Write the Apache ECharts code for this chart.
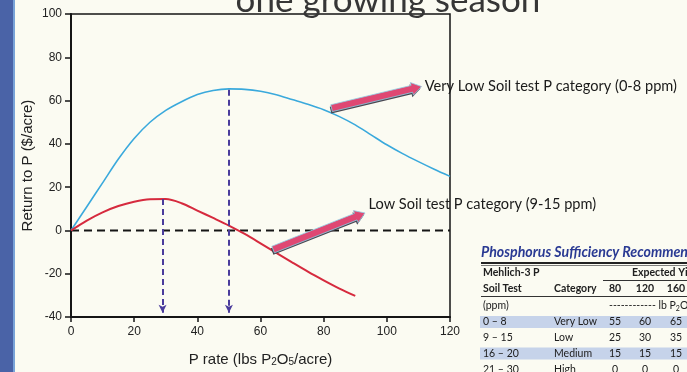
<!DOCTYPE html>
<html>
<head>
<meta charset="utf-8">
<script src="https://cdn.jsdelivr.net/npm/echarts@6/dist/echarts.min.js"></script>
<style>
  html, body { margin: 0; padding: 0; background: #fbfbf2; }
  #chart { width: 687px; height: 372px; }
</style>
</head>
<body>
<div id="chart"></div>
<script>
// P rate (lbs P2O5/acre) and return to P ($/acre), very low soil test P (0-8 ppm)
const pRateVeryLow = [0, 5, 10, 15, 20, 25, 30, 35, 40, 45, 50, 55, 60, 65, 70, 75, 80, 85, 90, 95, 100, 105, 110, 115, 120];
const returnVeryLow = [0, 11, 22, 33, 42.5, 50, 55.5, 59.5, 62.8, 64.7, 65.4, 65.2, 64.3, 62.7, 60.5, 58.3, 55.8, 52.6, 48.8, 44.2, 39.6, 35.5, 31.8, 28.3, 25];

// Low soil test P (9-15 ppm)
const pRateLow = [0, 5, 10, 15, 20, 25, 30, 35, 40, 45, 50, 55, 60, 65, 70, 75, 80, 85, 90];
const returnLow = [0, 4.6, 8.4, 11.3, 13.3, 14.4, 14.5, 12.6, 9.2, 5.8, 2.3, -1.6, -5.9, -10.3, -14.7, -19, -23, -26.8, -30.2];

// Most profitable P rate for each category (arrows dropped to the x axis)
const optimumRates = [29, 50];
const optimumReturns = [14.5, 65];
const arrowFloor = -38;

// Axis ticks
const xTicks = { min: 0, max: 120, interval: 20 };
const yTicks = { min: -40, max: 100, interval: 20 };

// Phosphorus sufficiency recommendation table
const tableRanges = ['0 – 8', '9 – 15', '16 – 20', '21 – 30'];
const tableCategories = ['Very Low', 'Low', 'Medium', 'High'];
const tableYieldGoals = [80, 120, 160];
const tableRates = [
  [55, 60, 65],
  [25, 30, 35],
  [15, 15, 15],
  [0, 0, 0]
];

const axisFont = 'Liberation Sans, Arial, sans-serif';
const slideFont = 'Lato, Open Sans, sans-serif';

const chart = echarts.init(document.getElementById('chart'), null, { renderer: 'canvas' });

function pairs(xs, ys) { return xs.map((x, i) => [x, ys[i]]); }

function dropArrow(i) {
  return {
    silent: true,
    symbol: ['none', 'arrow'],
    symbolSize: [6, 8],
    label: { show: false },
    lineStyle: { color: '#4a3c9c', width: 2, type: [6, 4] },
    data: [[{ coord: [optimumRates[i], optimumReturns[i]] }, { coord: [optimumRates[i], arrowFloor] }]],
    animation: false
  };
}

chart.setOption({
  backgroundColor: '#fbfbf2',
  animation: false,
  grid: { left: 71, right: 237, top: 14, bottom: 54, show: true, borderColor: '#151515', borderWidth: 1.5, backgroundColor: 'transparent' },
  xAxis: {
    type: 'value', min: xTicks.min, max: xTicks.max, interval: xTicks.interval,
    axisLine: { onZero: false, lineStyle: { color: '#151515', width: 2 } },
    axisTick: { length: 5, lineStyle: { color: '#151515', width: 1.5 } },
    axisLabel: { color: '#222', fontSize: 12, fontFamily: axisFont, margin: 9 },
    splitLine: { show: false },
    name: 'P rate (lbs P{s|2}O{s|5}/acre)',
    nameLocation: 'middle', nameGap: 34,
    nameTextStyle: {
      color: '#222', fontSize: 15, fontFamily: axisFont,
      rich: { s: { fontSize: 10, fontFamily: axisFont, color: '#222', verticalAlign: 'bottom', lineHeight: 10, padding: [14, 0, 0, 0] } }
    }
  },
  yAxis: {
    type: 'value', min: yTicks.min, max: yTicks.max, interval: yTicks.interval,
    axisLine: { show: true, lineStyle: { color: '#151515', width: 2 } },
    axisTick: { show: true, length: 6, lineStyle: { color: '#151515', width: 1.5 } },
    axisLabel: { color: '#222', fontSize: 12, fontFamily: axisFont, margin: 9 },
    splitLine: { show: false },
    name: 'Return to P ($/acre)',
    nameLocation: 'middle', nameGap: 36, nameMoveOverlap: false,
    nameTextStyle: { color: '#222', fontSize: 15, fontFamily: axisFont }
  },
  series: [
    {
      name: 'Very Low', type: 'line', data: pairs(pRateVeryLow, returnVeryLow),
      smooth: 0.3, showSymbol: false, silent: true,
      lineStyle: { color: '#3aa9dc', width: 1.6 },
      markLine: dropArrow(1), z: 3
    },
    {
      name: 'Low', type: 'line', data: pairs(pRateLow, returnLow),
      smooth: 0.3, showSymbol: false, silent: true,
      lineStyle: { color: '#d62a3e', width: 2 },
      markLine: dropArrow(0), z: 3
    },
    {
      name: 'Break-even', type: 'line', data: [[xTicks.min, 0], [xTicks.max, 0]],
      showSymbol: false, silent: true,
      lineStyle: { color: '#151515', width: 1.8, type: [8, 5] }, z: 2
    }
  ]
});

// Block arrow pointing from a curve to its label
function arrowPoints(p0, p1, shaft, headW, headL) {
  const dx = p1[0] - p0[0], dy = p1[1] - p0[1];
  const len = Math.hypot(dx, dy);
  const ux = dx / len, uy = dy / len, nx = -uy, ny = ux;
  const bx = p1[0] - ux * headL, by = p1[1] - uy * headL;
  const s = shaft / 2, h = headW / 2;
  return [
    [p0[0] + nx * s, p0[1] + ny * s],
    [bx + nx * s, by + ny * s],
    [bx + nx * h, by + ny * h],
    [p1[0], p1[1]],
    [bx - nx * h, by - ny * h],
    [bx - nx * s, by - ny * s],
    [p0[0] - nx * s, p0[1] - ny * s]
  ];
}

function blockArrow(fromData, toData) {
  const a = chart.convertToPixel({ gridIndex: 0 }, fromData);
  const b = chart.convertToPixel({ gridIndex: 0 }, toData);
  const pts = arrowPoints(a, b, 7, 13, 10);
  return [
    { type: 'polygon', shape: { points: pts.map(p => [p[0] - 1, p[1] + 2]) }, style: { fill: '#4a4650' }, silent: true, z: 20 },
    { type: 'polygon', shape: { points: pts }, style: { fill: '#df4873', stroke: '#8fd0e6', lineWidth: 0.8 }, silent: true, z: 21 }
  ];
}

const labelVeryLow = chart.convertToPixel({ gridIndex: 0 }, [112, 66.5]);
const labelLow = chart.convertToPixel({ gridIndex: 0 }, [94.2, 12]);

const graphics = [
  // blue edge of the slide
  { type: 'rect', shape: { x: 0, y: 0, width: 13, height: 372 }, style: { fill: '#4a63a7' }, silent: true, z: 30 },
  { type: 'rect', shape: { x: 13, y: 0, width: 2, height: 372 }, style: { fill: '#79a3d8' }, silent: true, z: 30 },
  // slide heading
  { type: 'text', x: 388, y: 1, style: { text: 'one growing season', fill: '#363636', font: '35px ' + slideFont, align: 'center', verticalAlign: 'middle' }, silent: true, z: 30 },
  ...blockArrow([82.5, 56.5], [111, 66.5]),
  ...blockArrow([64, -8.8], [93.1, 8.1]),
  { type: 'text', x: labelVeryLow[0], y: labelVeryLow[1], style: { text: 'Very Low Soil test P category (0-8 ppm)', fill: '#1a1a1a', font: '14.6px ' + slideFont, verticalAlign: 'middle' }, silent: true, z: 22 },
  { type: 'text', x: labelLow[0], y: labelLow[1], style: { text: 'Low Soil test P category (9-15 ppm)', fill: '#1a1a1a', font: '14.6px ' + slideFont, verticalAlign: 'middle' }, silent: true, z: 22 }
];

// Recommendation table
const tX = 481, colCat = 554, colYield = [615, 645, 676];
const rowY = [322, 338, 353.5, 369.5];
const hdr = 'bold 10.5px ' + slideFont, body = '10.5px ' + slideFont;
function tText(x, y, text, font, align, fill) {
  return { type: 'text', x, y, style: { text, font, fill: fill || '#202020', align: align || 'left', verticalAlign: 'middle' }, silent: true, z: 26 };
}
graphics.push(tText(tX, 252, 'Phosphorus Sufficiency Recommendations', 'italic bold 14.2px ' + slideFont, 'left', '#2a3a93'));
graphics.push({ type: 'rect', shape: { x: tX, y: 262, width: 220, height: 2 }, style: { fill: '#222' }, silent: true, z: 25 });
graphics.push({ type: 'rect', shape: { x: tX, y: 265, width: 220, height: 0.8 }, style: { fill: '#555' }, silent: true, z: 25 });
graphics.push(tText(tX + 2, 273, 'Mehlich-3 P', hdr));
graphics.push(tText(632, 273, 'Expected Yield', hdr));
graphics.push({ type: 'rect', shape: { x: 603, y: 280, width: 90, height: 1 }, style: { fill: '#333' }, silent: true, z: 25 });
graphics.push(tText(tX + 2, 289, 'Soil Test', hdr));
graphics.push(tText(colCat, 289, 'Category', hdr));
tableYieldGoals.forEach((g, j) => graphics.push(tText(colYield[j], 289, String(g), hdr, 'center')));
graphics.push({ type: 'rect', shape: { x: tX, y: 296, width: 220, height: 1 }, style: { fill: '#333' }, silent: true, z: 25 });
graphics.push(tText(tX + 2, 306, '(ppm)', body));
graphics.push({
  type: 'text', x: 609, y: 306,
  style: {
    text: '------------ lb P{s|2}O{s|5}/acre', font: body, fill: '#202020', verticalAlign: 'middle',
    rich: { s: { font: '7px ' + slideFont, fill: '#202020', verticalAlign: 'bottom', padding: [6, 0, 0, 0] } }
  }, silent: true, z: 26
});
tableRanges.forEach((r, i) => {
  if (i % 2 === 0) {
    graphics.push({ type: 'rect', shape: { x: tX - 1, y: rowY[i] - 6, width: 220, height: 12 }, style: { fill: '#c6d3ea' }, silent: true, z: 24 });
  }
  graphics.push(tText(tX + 2, rowY[i], r, body));
  graphics.push(tText(colCat, rowY[i], tableCategories[i], body));
  tableRates[i].forEach((v, j) => graphics.push(tText(colYield[j], rowY[i], String(v), body, 'center')));
});

chart.setOption({ graphic: graphics });
</script>
</body>
</html>
